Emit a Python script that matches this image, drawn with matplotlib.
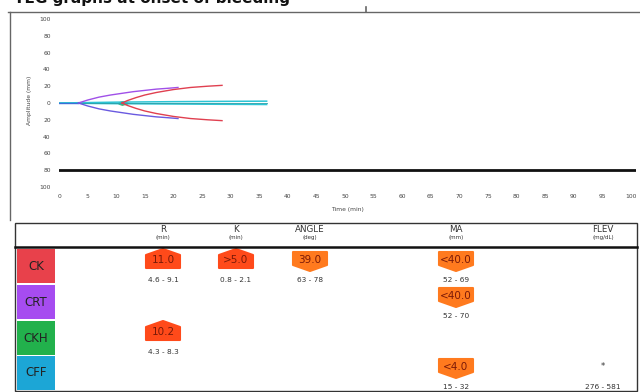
#!/usr/bin/env python3
"""TEG tracings at onset of bleeding, with the parameter table underneath."""
import matplotlib
matplotlib.use("Agg")
import matplotlib.pyplot as plt
from matplotlib.patches import Polygon, Rectangle

# ── Data ──────────────────────────────────────────────────────────────────────

TITLE = "TEG graphs at onset of bleeding"

# tracing amplitudes (upper half, mirrored for the lower half)
ck_t  = [11.0, 12.0, 13.5, 15.0, 17.0, 20.0, 23.0, 26.0, 28.5]
ck_a  = [0.0, 3.0, 6.5, 9.5, 12.5, 16.0, 18.5, 20.0, 21.0]
crt_t = [3.4, 5.0, 7.0, 9.0, 11.0, 13.0, 15.0, 17.0, 19.0, 20.8]
crt_a = [0.0, 3.5, 7.0, 9.5, 11.5, 13.5, 15.0, 16.5, 17.5, 18.5]
ckh_t = [10.2, 10.6, 11.0, 11.5, 12.0]
ckh_a = [0.0, 1.5, 2.2, 1.5, 0.5]
cff_t = [0.0, 5.0, 10.0, 15.0, 20.0, 25.0, 30.0, 36.3]
cff_up = [0.0, 0.5, 1.0, 1.3, 1.6, 1.8, 2.0, 2.2]
cff_lo = [0.0, -0.5, -0.8, -1.0, -1.2, -1.4, -1.6, -1.8]
pre_t = [0.0, 3.4]
ref_level = -80

x_ticks = list(range(0, 101, 5))
y_ticks = list(range(-100, 101, 20))

rows = ["CK", "CRT", "CKH", "CFF"]
row_colors = ["#e8414b", "#a64cf0", "#22b14c", "#1ca6d6"]
columns = ["R", "K", "ANGLE", "MA", "FLEV"]
units = ["(min)", "(min)", "(deg)", "(mm)", "(mg/dL)"]

# (row, column, text, direction)  direction: 1 = above range, -1 = below range
badges = [
    (0, 0, "11.0", 1), (0, 1, ">5.0", 1), (0, 2, "39.0", -1), (0, 3, "<40.0", -1),
    (1, 3, "<40.0", -1),
    (2, 0, "10.2", 1),
    (3, 3, "<4.0", -1),
]
ranges = [
    (0, 0, "4.6 - 9.1"), (0, 1, "0.8 - 2.1"), (0, 2, "63 - 78"), (0, 3, "52 - 69"),
    (1, 3, "52 - 70"),
    (2, 0, "4.3 - 8.3"),
    (3, 3, "15 - 32"), (3, 4, "276 - 581"),
]
flags = [(3, 4, "*")]

# ── Layout (pixels) ──────────────────────────────────────────────────────────

W, H = 640, 392
col_x = [163, 236, 310, 456, 603]
row_top = [249, 285, 321, 356]
row_h = 34

fig = plt.figure(figsize=(6.4, 3.92), dpi=100, facecolor="white")

# overlay in pixel coordinates for frames, title and table
ax_t = fig.add_axes([0, 0, 1, 1], facecolor="none")
ax_t.set_xlim(0, W)
ax_t.set_ylim(H, 0)
ax_t.axis("off")

# ── Chart ────────────────────────────────────────────────────────────────────

ax = fig.add_axes([59 / W, 1 - 187 / H, 577 / W, 168 / H])
ax.set_xlim(0, 100 * 577 / 572)
ax.set_ylim(-100, 100)
for s in ax.spines.values():
    s.set_visible(False)
ax.set_xticks(x_ticks)
ax.set_yticks(y_ticks)
ax.set_yticklabels([str(abs(v)) for v in y_ticks])
ax.tick_params(length=0, labelsize=4.3, labelcolor="#444444")
ax.tick_params(axis="y", pad=6)
ax.tick_params(axis="x", pad=5)

ax.axhline(ref_level, color="#111111", lw=2.0)

ax.plot(cff_t, cff_up, color="#2cc4d4", lw=1.1)
ax.plot(cff_t, cff_lo, color="#2cc4d4", lw=1.1)
ax.plot(cff_t, [0] * len(cff_t), color="#2a9fa8", lw=0.6)
ax.plot(pre_t, [0, 0], color="#3a6fd8", lw=1.0)
ax.plot(crt_t, crt_a, color="#a050e8", lw=1.0)
ax.plot(crt_t, [-a for a in crt_a], color="#6a5ae0", lw=1.0)
ax.plot(ck_t, ck_a, color="#e04050", lw=1.0)
ax.plot(ck_t, [-a for a in ck_a], color="#e04050", lw=1.0)
ax.fill_between(ckh_t, ckh_a, [-a for a in ckh_a], color="#3aa860", lw=0.6)

ax_t.text(30, 100, "Amplitude (mm)", rotation=90, ha="center", va="center",
          fontsize=4.3, color="#444444")
ax_t.text(347, 209, "Time (min)", ha="center", va="center",
          fontsize=4.3, color="#444444")

# title (cropped at the top edge, as in the source) and outer frame
ax_t.text(14, 3, TITLE, ha="left", va="baseline", fontsize=11,
          fontweight="bold", color="#111111")
ax_t.plot([8, 640], [12, 12], color="#666666", lw=1.0)
ax_t.plot([10, 10], [12, 220], color="#666666", lw=1.0)
ax_t.plot([366, 366], [7, 12], color="#666666", lw=1.2)

# ── Table ────────────────────────────────────────────────────────────────────

ax_t.add_patch(Rectangle((15, 223), 622, 168, facecolor="none",
                         edgecolor="#333333", lw=1.0))
ax_t.plot([15, 637], [247, 247], color="#111111", lw=1.8)

for name, unit, x in zip(columns, units, col_x):
    ax_t.text(x, 229, name, ha="center", va="center", fontsize=6.3, color="#333333")
    ax_t.text(x, 237, unit, ha="center", va="center", fontsize=4, color="#333333")

for name, color, top in zip(rows, row_colors, row_top):
    ax_t.add_patch(Rectangle((17, top), 38, row_h, facecolor=color, edgecolor="none"))
    ax_t.text(36, top + row_h / 2, name, ha="center", va="center",
              fontsize=8.5, color="#222222")


def badge_shape(cx, cy, direction):
    hw, hh, tip = 17, 8, 3
    if direction > 0:   # pointed top
        pts = [(-hw, hh), (hw, hh), (hw, -hh + tip), (0, -hh - tip), (-hw, -hh + tip)]
    else:               # pointed bottom
        pts = [(-hw, -hh), (hw, -hh), (hw, hh - tip), (0, hh + tip), (-hw, hh - tip)]
    return [(cx + dx, cy + dy) for dx, dy in pts]


for r, c, txt, d in badges:
    cy = row_top[r] + 11
    color = "#ff4a1a" if c < 2 else "#ff7a1e"
    ax_t.add_patch(Polygon(badge_shape(col_x[c], cy, d), closed=True,
                           facecolor=color, edgecolor=color, lw=1.5,
                           joinstyle="round"))
    ax_t.text(col_x[c], cy, txt, ha="center", va="center", fontsize=7.5,
              color="#7a1a08")

for r, c, txt in ranges:
    ax_t.text(col_x[c], row_top[r] + 31, txt, ha="center", va="center",
              fontsize=5.3, color="#333333")

for r, c, txt in flags:
    ax_t.text(col_x[c], row_top[r] + 11, txt, ha="center", va="center",
              fontsize=6, color="#333333")

fig.savefig("out.png", dpi=100, facecolor="white")
